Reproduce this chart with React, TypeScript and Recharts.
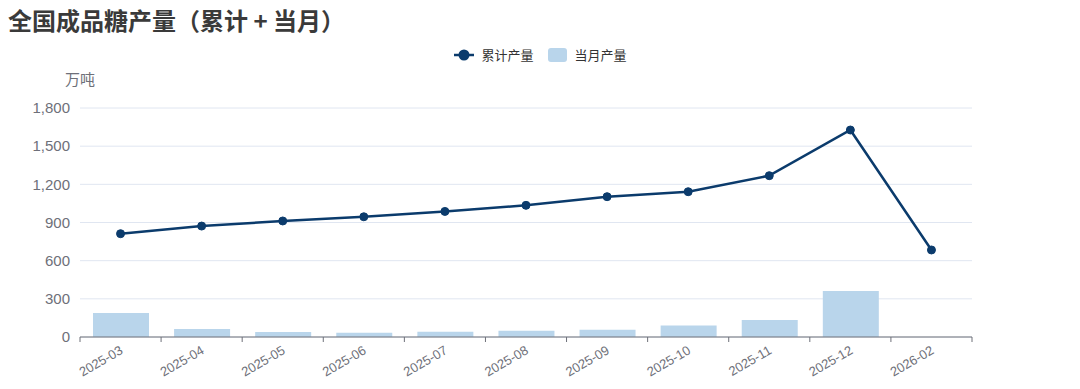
import React from "react";
import {
  ComposedChart,
  Bar,
  Line,
  XAxis,
  YAxis,
  CartesianGrid,
} from "recharts";

const months = [
  "2025-03",
  "2025-04",
  "2025-05",
  "2025-06",
  "2025-07",
  "2025-08",
  "2025-09",
  "2025-10",
  "2025-11",
  "2025-12",
  "2026-02",
];
const cumulative = [812, 872, 912, 945, 987, 1035, 1103, 1142, 1268, 1627, 684];
const monthly: (number | null)[] = [189, 63, 39, 34, 42, 49, 57, 91, 133, 361, null];
const yTicks = [0, 300, 600, 900, 1200, 1500, 1800];

const W = 1080;
const H = 389;
const PLOT_LEFT = 80;
const PLOT_RIGHT = 972;
const BAND = (PLOT_RIGHT - PLOT_LEFT) / months.length;

const LINE_COLOR = "#0b3b6c";
const BAR_COLOR = "#b9d5eb";
const AXIS_COLOR = "#6e7079";
const LATIN = "'Liberation Sans', Arial, 'Noto Sans CJK SC', sans-serif";
const CJK = "'Noto Sans CJK SC', 'Liberation Sans', sans-serif";

const data = months.map((m, i) => ({
  month: m,
  cumulative: cumulative[i],
  monthly: monthly[i],
}));

function XTick(props: any) {
  const { x, y, payload, index } = props;
  const half = BAND / 2;
  return (
    <g>
      <line x1={x - half} x2={x - half} y1={y} y2={y + 5} stroke={AXIS_COLOR} />
      {index === months.length - 1 && (
        <line x1={x + half} x2={x + half} y1={y} y2={y + 5} stroke={AXIS_COLOR} />
      )}
      <text
        transform={`translate(${x + 1},${y + 12}) rotate(-30)`}
        textAnchor="end"
        dy="0.35em"
        fill={AXIS_COLOR}
        fontSize={13}
        fontFamily={LATIN}
      >
        {payload.value}
      </text>
    </g>
  );
}

function LegendBar() {
  return (
    <div
      style={{
        position: "absolute",
        top: 45,
        left: 0,
        width: W,
        display: "flex",
        justifyContent: "center",
        alignItems: "center",
        fontFamily: CJK,
        fontSize: 13,
        color: "#333",
      }}
    >
      <svg width={22} height={14} style={{ marginRight: 6 }}>
        <line x1={1} x2={21} y1={7} y2={7} stroke={LINE_COLOR} strokeWidth={2.5} />
        <circle cx={11} cy={7} r={5.5} fill={LINE_COLOR} />
      </svg>
      <span style={{ marginRight: 14 }}>累计产量</span>
      <div
        style={{
          width: 19,
          height: 14,
          borderRadius: 3,
          background: BAR_COLOR,
          marginRight: 8,
        }}
      />
      <span>当月产量</span>
    </div>
  );
}

export default function App() {
  return (
    <div
      style={{
        position: "absolute",
        left: 0,
        top: 0,
        width: W,
        height: H,
        background: "#fff",
      }}
    >
      <div
        style={{
          position: "absolute",
          left: 8,
          top: 3,
          fontFamily: CJK,
          fontWeight: 700,
          fontSize: 24,
          color: "#3a3a3a",
          lineHeight: "34px",
        }}
      >
        全国成品糖产量（累计 + 当月）
      </div>
      <LegendBar />
      <div
        style={{
          position: "absolute",
          left: 65,
          top: 68,
          fontFamily: CJK,
          fontSize: 15,
          color: AXIS_COLOR,
        }}
      >
        万吨
      </div>
      <ComposedChart
        width={W}
        height={H}
        data={data}
        margin={{ top: 108, right: W - PLOT_RIGHT, bottom: 0, left: 0 }}
      >
        <CartesianGrid vertical={false} stroke="#e0e6f1" />
        <XAxis
          dataKey="month"
          interval={0}
          height={52}
          axisLine={{ stroke: AXIS_COLOR }}
          tickLine={false}
          tickSize={0}
          tickMargin={0}
          tick={<XTick />}
        />
        <YAxis
          width={PLOT_LEFT}
          domain={[0, 1800]}
          ticks={yTicks}
          axisLine={false}
          tickLine={false}
          tickSize={0}
          tickMargin={10}
          tick={{ fill: AXIS_COLOR, fontSize: 15, fontFamily: LATIN }}
          tickFormatter={(v: number) => v.toLocaleString("en-US")}
        />
        <Bar
          dataKey="monthly"
          name="当月产量"
          fill={BAR_COLOR}
          barSize={56}
          isAnimationActive={false}
        />
        <Line
          type="linear"
          dataKey="cumulative"
          name="累计产量"
          stroke={LINE_COLOR}
          strokeWidth={2.5}
          dot={{ r: 4, fill: LINE_COLOR, stroke: LINE_COLOR, strokeWidth: 1 }}
          isAnimationActive={false}
        />
      </ComposedChart>
    </div>
  );
}
